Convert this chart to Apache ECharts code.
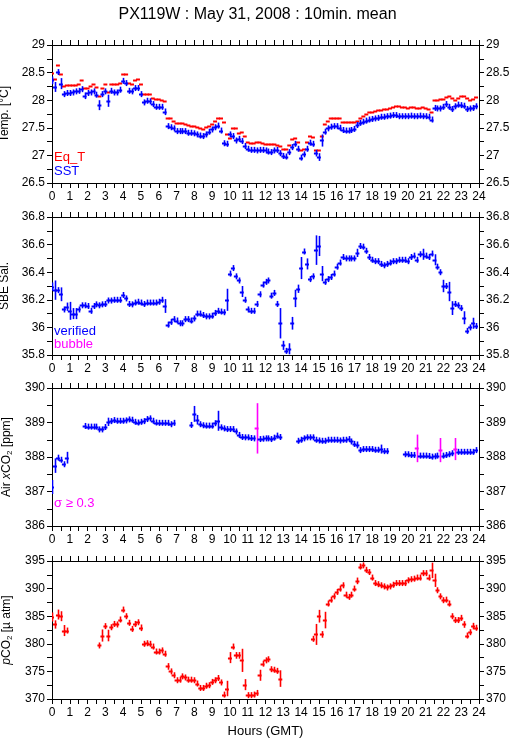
<!DOCTYPE html>
<html>
<head>
<meta charset="utf-8">
<script src="https://cdn.jsdelivr.net/npm/echarts@6/dist/echarts.min.js"></script>
<style>
html,body{margin:0;padding:0;background:#fff;}
#c{width:515px;height:739px;}
</style>
</head>
<body>
<div id="c"></div>
<script>
// ---------- DATA (10-minute means, index i -> hour i/6) ----------
const TITLE = 'PX119W : May 31, 2008 : 10min. mean';
const X_TICKS = [0, 24, 1];

const EQ_T = [
 28.50,28.38,28.63,28.47,28.26,28.27,
 28.27,28.28,28.27,28.30,28.36,28.23,
 28.23,28.26,28.29,28.24,28.07,28.23,
 28.30,28.15,28.30,28.29,28.30,28.31,
 28.47,28.47,28.31,28.29,28.36,28.38,
 28.29,28.12,28.12,28.11,28.04,28.03,
 28.02,28.00,27.98,27.68,27.67,27.63,
 27.58,27.58,27.58,27.56,27.55,27.53,
 27.53,27.52,27.50,27.48,27.51,27.53,
 27.56,27.62,27.67,27.67,27.60,27.38,
 27.32,27.49,27.49,27.41,27.42,27.35,
 27.24,27.22,27.22,27.24,27.24,27.22,
 27.21,27.21,27.21,27.21,27.19,27.17,
 27.12,27.12,27.19,27.29,27.32,27.25,
 27.10,27.12,27.24,27.36,27.34,27.10,
 27.10,27.36,27.56,27.62,27.67,27.67,
 27.67,27.67,27.60,27.60,27.60,27.60,
 27.60,27.62,27.67,27.71,27.75,27.78,
 27.79,27.81,27.82,27.83,27.84,27.84,
 27.86,27.87,27.89,27.89,27.87,27.87,
 27.85,27.87,27.87,27.86,27.85,27.87,
 27.85,27.84,27.79,28.01,28.01,28.02,
 28.02,28.05,28.07,28.04,28.00,28.04,
 28.08,28.08,28.04,28.01,28.02,28.05];

const SST = [
 28.36,28.24,28.51,28.30,28.11,28.13,
 28.13,28.14,28.16,28.17,28.20,28.08,
 28.13,28.14,28.16,28.10,27.91,28.11,
 28.16,27.99,28.17,28.14,28.14,28.19,
 28.35,28.31,28.17,28.16,28.22,28.22,
 28.11,27.96,27.99,27.98,27.93,27.88,
 27.88,27.88,27.79,27.53,27.51,27.49,
 27.44,27.44,27.44,27.44,27.41,27.41,
 27.40,27.38,27.36,27.35,27.38,27.43,
 27.47,27.51,27.54,27.45,27.22,27.21,
 27.38,27.35,27.27,27.30,27.26,27.17,
 27.12,27.10,27.10,27.09,27.10,27.10,
 27.09,27.07,27.06,27.09,27.10,27.04,
 26.99,26.98,27.06,27.15,27.21,27.12,
 26.96,27.02,27.12,27.23,27.21,27.04,
 26.97,27.27,27.43,27.49,27.52,27.53,
 27.53,27.50,27.46,27.45,27.45,27.46,
 27.48,27.55,27.59,27.61,27.63,27.65,
 27.66,27.67,27.68,27.70,27.70,27.71,
 27.72,27.73,27.73,27.71,27.71,27.71,
 27.71,27.72,27.71,27.71,27.72,27.71,
 27.71,27.70,27.65,27.86,27.85,27.85,
 27.88,27.93,27.88,27.84,27.89,27.92,
 27.91,27.90,27.84,27.85,27.86,27.89];

const SST_SD = [
 .07,.09,.03,.10,.01,.01,
 .01,.01,.01,.01,.01,.06,
 .01,.01,.01,.01,.09,.01,
 .01,.11,.01,.01,.01,.01,
 .01,.01,.01,.04,.01,.01,
 .05,.01,.01,.01,.01,.01,
 .01,.01,.06,.01,.01,.01,
 .01,.01,.01,.01,.01,.01,
 .01,.01,.01,.01,.01,.01,
 .01,.01,.01,.03,.04,.03,
 .01,.01,.01,.01,.01,.01,
 .01,.01,.01,.01,.01,.01,
 .01,.01,.01,.01,.01,.03,
 .01,.01,.01,.01,.01,.05,
 .04,.01,.04,.01,.01,.06,
 .07,.11,.01,.01,.01,.01,
 .01,.01,.01,.01,.01,.01,
 .01,.01,.01,.01,.01,.01,
 .01,.01,.01,.01,.01,.01,
 .01,.01,.01,.01,.01,.01,
 .01,.01,.01,.01,.01,.01,
 .01,.01,.05,.01,.01,.01,
 .01,.01,.01,.01,.01,.01,
 .01,.01,.01,.01,.01,.01];

const SAL = [
 36.295,36.27,36.27,36.24,36.13,36.15,
 36.12,36.10,36.10,36.13,36.16,36.16,
 36.155,36.12,36.155,36.167,36.16,36.167,
 36.17,36.195,36.195,36.20,36.20,36.20,
 36.235,36.21,36.17,36.167,36.18,36.186,
 36.18,36.17,36.18,36.18,36.18,36.18,
 36.186,36.20,36.155,36.02,36.04,36.06,
 36.05,36.03,36.03,36.06,36.06,36.05,
 36.065,36.10,36.10,36.09,36.08,36.08,
 36.085,36.105,36.12,36.115,36.11,36.20,
 36.39,36.43,36.37,36.34,36.26,36.20,
 36.13,36.12,36.12,36.17,36.24,36.31,
 36.33,36.34,36.23,36.25,36.17,36.03,
 35.87,35.83,35.845,36.03,36.21,36.28,
 36.43,36.55,36.46,36.35,36.37,36.56,
 36.59,36.39,36.33,36.35,36.365,36.39,
 36.44,36.47,36.51,36.50,36.50,36.50,
 36.50,36.54,36.59,36.585,36.555,36.51,
 36.49,36.48,36.48,36.46,36.45,36.46,
 36.47,36.48,36.48,36.49,36.49,36.49,
 36.48,36.51,36.52,36.49,36.53,36.53,
 36.52,36.51,36.535,36.49,36.44,36.40,
 36.30,36.30,36.26,36.14,36.17,36.16,
 36.14,36.07,35.975,36.00,36.03,36.01];

const SAL_SD = [
 .03,.07,.02,.05,.01,.03,
 .065,.04,.04,.02,.01,.01,
 .01,.02,.01,.01,.01,.01,
 .01,.01,.01,.01,.01,.01,
 .01,.01,.01,.01,.01,.01,
 .01,.01,.01,.01,.01,.01,
 .01,.01,.05,.01,.01,.01,
 .01,.01,.01,.01,.01,.01,
 .01,.01,.01,.01,.01,.01,
 .01,.01,.01,.01,.01,.08,
 .02,.01,.02,.01,.04,.01,
 .01,.01,.01,.01,.02,.01,
 .01,.02,.01,.01,.01,.11,
 .033,.02,.04,.046,.063,.03,
 .08,.01,.04,.01,.01,.107,
 .073,.055,.01,.01,.01,.01,
 .01,.01,.01,.01,.01,.01,
 .01,.03,.01,.01,.01,.01,
 .01,.01,.01,.01,.01,.01,
 .01,.01,.02,.01,.01,.01,
 .02,.01,.01,.01,.01,.04,
 .01,.01,.01,.04,.01,.01,
 .045,.01,.07,.05,.01,.01,
 .01,.047,.01,.01,.04,.01];

const XCO2 = [
 387.13,387.75,387.98,387.92,387.79,387.98,
 null,null,null,null,null,388.90,
 388.88,388.88,388.88,388.88,388.80,388.80,
 388.87,389.02,389.04,389.07,389.05,389.05,
 389.05,389.06,389.09,389.08,389.02,389.00,
 389.02,389.04,389.10,389.12,389.05,389.00,
 388.99,388.99,388.99,388.99,388.95,388.99,
 null,null,null,null,null,388.93,
 389.25,389.08,388.95,388.92,388.91,388.91,
 388.91,388.98,389.05,388.86,388.83,388.81,
 388.81,388.81,388.74,388.64,388.58,388.57,
 388.57,388.55,388.54,388.83,388.52,388.53,
 388.54,388.54,388.52,388.56,388.62,388.58,
 null,null,null,null,null,388.47,
 388.50,388.54,388.57,388.57,388.57,388.50,
 388.48,388.47,388.47,388.50,388.50,388.50,
 388.50,388.48,388.50,388.50,388.52,388.45,
 388.38,388.35,388.20,388.23,388.23,388.23,
 388.23,388.21,388.21,388.23,388.17,388.17,
 null,null,null,null,null,388.08,
 388.08,388.06,388.06,388.25,388.04,388.04,
 388.04,388.03,388.01,388.02,388.04,388.20,
 388.04,388.06,388.08,388.11,388.23,388.15,
 388.15,388.15,388.15,388.15,388.15,388.20];

const XCO2_SD = [
 .20,.21,.02,.02,.02,.17,
 0,0,0,0,0,.02,
 .02,.02,.02,.02,.02,.02,
 .02,.12,.02,.02,.02,.02,
 .02,.02,.02,.02,.02,.02,
 .02,.02,.02,.02,.02,.02,
 .02,.02,.02,.02,.02,.02,
 0,0,0,0,0,.02,
 .23,.14,.02,.02,.02,.02,
 .02,.02,.29,.02,.02,.02,
 .02,.02,.02,.02,.02,.02,
 .02,.02,.02,.73,.02,.02,
 .02,.02,.02,.02,.02,.02,
 0,0,0,0,0,.02,
 .02,.02,.02,.02,.02,.02,
 .02,.02,.02,.02,.02,.02,
 .02,.02,.02,.02,.02,.02,
 .02,.10,.02,.02,.02,.02,
 .02,.02,.02,.13,.02,.02,
 0,0,0,0,0,.02,
 .02,.02,.02,.40,.02,.02,
 .02,.02,.02,.02,.02,.35,
 .02,.02,.02,.02,.32,.02,
 .02,.02,.02,.02,.02,.02];

const PCO2 = [
 384.85,383.5,385.3,385.0,382.4,382.4,
 null,null,null,null,null,null,
 null,null,null,null,379.7,381.5,
 383.2,381.5,383.0,383.6,383.5,384.4,
 386.2,385.0,383.8,382.7,383.6,383.9,
 382.9,380.0,380.1,380.0,379.5,378.6,
 378.6,378.8,378.2,375.9,375.0,374.3,
 373.4,373.5,374.1,373.9,373.5,373.5,
 373.4,372.8,372.0,372.0,372.4,372.5,
 373.1,373.4,373.8,373.0,370.8,371.9,
 377.5,379.5,377.9,377.9,377.0,372.6,
 370.7,370.7,370.8,371.1,374.3,376.4,
 377.0,377.2,375.4,375.3,375.1,373.7,
 null,null,null,null,null,null,
 null,null,null,null,380.9,381.7,
 385.0,381.7,384.3,387.3,388.0,388.6,
 389.4,390.0,390.6,388.9,388.5,388.9,
 390.0,391.4,394.0,394.2,393.4,393.0,
 392.0,391.0,390.8,390.6,390.4,390.2,
 390.4,390.7,391.0,391.0,391.0,391.0,
 391.5,391.7,391.8,392.0,392.0,392.8,
 392.8,392.0,393.3,391.5,389.7,388.6,
 387.9,388.0,387.3,385.0,384.3,384.3,
 384.7,383.5,381.5,382.1,383.2,382.9];

const PCO2_SD = [
 .8,.75,.9,.9,1.0,.25,
 0,0,0,0,0,0,
 0,0,0,0,.4,1.1,
 .5,1.05,.4,.25,.25,.5,
 .4,.5,.25,.4,.25,.25,
 .6,.25,.25,.25,.25,.25,
 .25,.25,.5,.6,.25,.3,
 .25,.25,.25,.25,.25,.25,
 .25,.25,.25,.25,.25,.25,
 .25,.25,.25,.4,.4,1.4,
 1.0,.5,.6,.6,2.1,1.0,
 .25,.25,.25,.4,1.0,.25,
 .25,.25,.25,.25,.25,1.5,
 0,0,0,0,0,0,
 0,0,0,0,.4,1.9,
 1.15,.6,1.5,.4,.25,.25,
 .25,.25,.25,.25,.25,.3,
 .4,.6,.4,.25,.25,.25,
 .25,.25,.25,.25,.25,.25,
 .25,.25,.25,.25,.25,.25,
 .25,.25,.25,.25,.25,.3,
 .25,.3,1.4,1.2,.4,.4,
 .25,.25,.25,.5,.25,.25,
 .25,.6,.3,.25,.6,.25];

// ---------- CHART ----------
const BLUE = '#0000ff', RED = '#ff0000', MAG = '#ff00ff';
const FONT = '"Liberation Sans", Arial, Helvetica, sans-serif';
const HALF = 1 / 9; // half-width of each averaging dash, hours

function toData(vals, sds) {
  const out = [];
  vals.forEach((v, i) => {
    if (v === null || v === undefined) return;
    out.push([i / 6, v, sds ? sds[i] : NaN]);
  });
  return out;
}

function crossSeries(idx, vals, sds, colorFn, withBar) {
  return {
    type: 'custom',
    xAxisIndex: idx * 2,
    yAxisIndex: idx * 2,
    clip: true,
    silent: true,
    data: toData(vals, sds),
    renderItem: function (params, api) {
      const t = api.value(0), v = api.value(1), e = api.value(2);
      const col = colorFn(e);
      const a = api.coord([t - HALF, v]);
      const b = api.coord([t + HALF, v]);
      const yy = Math.round(a[1]) + 0.5;
      const ch = [{
        type: 'line',
        shape: { x1: a[0], y1: yy, x2: b[0], y2: yy },
        style: { stroke: col, lineWidth: 2 }
      }];
      if (withBar) {
        const c = api.coord([t, v]);
        const top = api.coord([t, v + (isNaN(e) ? 0 : e)]);
        const h = Math.max(3, c[1] - top[1]);
        const xx = Math.round(c[0]) + 0.5;
        ch.push({
          type: 'line',
          shape: { x1: xx, y1: c[1] - h, x2: xx, y2: c[1] + h },
          style: { stroke: col, lineWidth: 1.6 }
        });
      }
      return { type: 'group', children: ch };
    }
  };
}

const PANELS = [
  { top: 45,  min: 26.5, max: 29,   interval: 0.5, name: 'Temp. [°C]' },
  { top: 217, min: 35.8, max: 36.8, interval: 0.2, name: 'SBE Sal.' },
  { top: 388, min: 386,  max: 390,  interval: 1,   name: '{n|Air }{i|x}{n|CO}{s|2}{n| [ppm]}' },
  { top: 561, min: 370,  max: 395,  interval: 5,   name: '{i|p}{n|CO}{s|2}{n| [µ atm]}' }
];

const axisLineStyle = { color: '#000', width: 1 };
const grids = [], xAxes = [], yAxes = [];
PANELS.forEach((p, i) => {
  grids.push({ left: 52, width: 427, top: p.top, height: 138,
               containLabel: false, outerBoundsMode: 'none' });
  const xBase = {
    type: 'value', gridIndex: i, min: X_TICKS[0], max: X_TICKS[1], interval: X_TICKS[2],
    axisLine: { show: true, onZero: false, lineStyle: axisLineStyle },
    axisTick: { show: true, length: 5, lineStyle: axisLineStyle },
    minorTick: { show: true, splitNumber: 2, length: 5, lineStyle: axisLineStyle },
    splitLine: { show: false },
    minorSplitLine: { show: false }
  };
  xAxes.push(Object.assign({}, xBase, {
    position: 'bottom',
    axisLabel: { show: true, fontSize: 12, color: '#000', fontFamily: FONT, margin: 8 },
    name: i === 3 ? 'Hours (GMT)' : '',
    nameLocation: 'middle', nameGap: 26,
    nameTextStyle: { fontSize: 13, color: '#000', fontFamily: FONT }
  }));
  xAxes.push(Object.assign({}, xBase, {
    position: 'top', axisLabel: { show: false }
  }));
  const yBase = {
    type: 'value', gridIndex: i, min: p.min, max: p.max, interval: p.interval,
    axisLine: { show: true, onZero: false, lineStyle: axisLineStyle },
    axisTick: { show: true, length: 5, lineStyle: axisLineStyle },
    minorTick: { show: true, splitNumber: 2, length: 5, lineStyle: axisLineStyle },
    splitLine: { show: false },
    minorSplitLine: { show: false },
    axisLabel: { show: true, fontSize: 12, color: '#000', fontFamily: FONT, margin: 7 }
  };
  yAxes.push(Object.assign({}, yBase, {
    position: 'left',
    name: p.name, nameLocation: 'middle', nameGap: 35, nameRotate: 90,
    nameTextStyle: {
      fontSize: 12, color: '#000', fontFamily: FONT,
      rich: {
        n: { fontSize: 12, color: '#000', fontFamily: FONT },
        i: { fontSize: 12, color: '#000', fontFamily: FONT, fontStyle: 'italic' },
        s: { fontSize: 8, color: '#000', fontFamily: FONT, verticalAlign: 'bottom', padding: [6, 0, 0, 0] }
      }
    }
  }));
  yAxes.push(Object.assign({}, yBase, { position: 'right' }));
});

const legendTexts = [
  { text: 'Eq_T', color: RED, x: 54, y: 158 },
  { text: 'SST', color: BLUE, x: 54, y: 172 },
  { text: 'verified', color: BLUE, x: 54, y: 332 },
  { text: 'bubble', color: MAG, x: 54, y: 345 },
  { text: 'σ ≥ 0.3', color: MAG, x: 54, y: 504 }
];

const option = {
  backgroundColor: '#fff',
  animation: false,
  title: {
    text: TITLE, left: 'center', top: 2,
    textStyle: { fontSize: 16, fontWeight: 'normal', color: '#000', fontFamily: FONT }
  },
  grid: grids,
  xAxis: xAxes,
  yAxis: yAxes,
  graphic: legendTexts.map(l => ({
    type: 'text', left: l.x, top: l.y - 7, z: 100,
    style: { text: l.text, fill: l.color, fontSize: 13, fontFamily: FONT }
  })),
  series: [
    crossSeries(0, EQ_T, null, () => RED, false),
    crossSeries(0, SST, SST_SD, () => BLUE, true),
    crossSeries(1, SAL, SAL_SD, () => BLUE, true),
    crossSeries(2, XCO2, XCO2_SD, e => (e >= 0.3 ? MAG : BLUE), true),
    crossSeries(3, PCO2, PCO2_SD, () => RED, true)
  ]
};

const chart = echarts.init(document.getElementById('c'), null, { renderer: 'canvas' });
chart.setOption(option);
</script>
</body>
</html>
